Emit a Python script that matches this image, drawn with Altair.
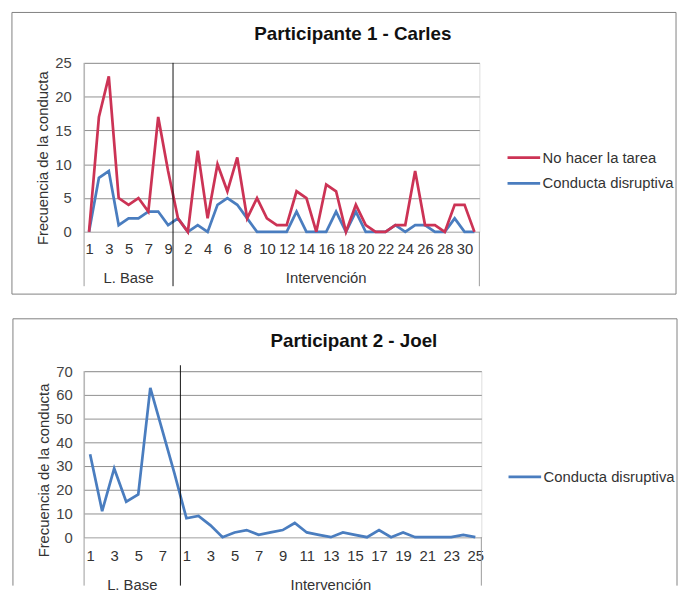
import altair as alt
import pandas as pd

FONT = "Liberation Sans"

# ---------------- data ----------------
series_names = ["No hacer la tarea", "Conducta disruptiva"]
series_colors = ["#CC3355", "#4A7DBF"]
phase_labels = ["L. Base", "Intervención"]
y_title = "Frecuencia de la conducta"

# Participant 1 - Carles
p1_title = "Participante 1 - Carles"
p1_base_sessions = list(range(1, 10))
p1_int_sessions = list(range(1, 32))
p1_tarea_base = [0, 17, 23, 5, 4, 5, 3, 17, 9]
p1_tarea_int = [2, 0, 12, 2, 10, 6, 11, 2, 5, 2, 1, 1, 6, 5, 0, 7, 6, 0, 4, 1,
                0, 0, 1, 1, 9, 1, 1, 0, 4, 4, 0]
p1_disr_base = [0, 8, 9, 1, 2, 2, 3, 3, 1]
p1_disr_int = [2, 0, 1, 0, 4, 5, 4, 2, 0, 0, 0, 0, 3, 0, 0, 0, 3, 0, 3, 0,
               0, 0, 1, 0, 1, 1, 0, 0, 2, 0, 0]
p1_y_ticks = [0, 5, 10, 15, 20, 25]

# Participant 2 - Joel
p2_title = "Participant 2 - Joel"
p2_base_sessions = list(range(1, 9))
p2_int_sessions = list(range(1, 26))
p2_disr_base = [35, 11, 29, 15, 18, 63, 45, 27]
p2_disr_int = [8, 9, 5, 0, 2, 3, 1, 2, 3, 6, 2, 1, 0, 2, 1, 0, 3, 0, 2, 0,
               0, 0, 0, 1, 0]
p2_y_ticks = [0, 10, 20, 30, 40, 50, 60, 70]


def build_df(base_sessions, int_sessions, series_values):
    rows = []
    sessions = base_sessions + int_sessions
    phases = [phase_labels[0]] * len(base_sessions) + [phase_labels[1]] * len(int_sessions)
    for name, (b, i) in series_values.items():
        vals = b + i
        for k, (s, ph, v) in enumerate(zip(sessions, phases, vals)):
            rows.append({"idx": k + 1, "session": s, "phase": ph,
                         "series": name, "value": v})
    return pd.DataFrame(rows)


def make_panel(df, n_base, n_total, names, colors, y_ticks, title, g):
    W, H = g["W"], g["H"]
    xscale = alt.Scale(domain=[0.5, n_total + 0.5], nice=False, zero=False)
    xaxis = alt.Axis(
        values=list(range(1, n_total + 1, 2)),
        labelExpr=f"datum.value <= {n_base} ? datum.value : datum.value - {n_base}",
        grid=False, ticks=False, tickSize=0, domain=True, domainColor="#c8c8c8",
        labelPadding=g["xlabpad"], labelFontSize=15, labelColor="#333333",
        labelFont=FONT, labelOverlap=False, labelFlush=False, labelBound=False,
        title=None,
    )
    X = alt.X("idx:Q", scale=xscale, axis=xaxis)
    yaxis = alt.Axis(
        values=y_ticks, grid=True, gridColor="#8f8f8f", gridWidth=1,
        domain=False, ticks=False, tickSize=0, labelPadding=g["ylabpad"],
        labelFontSize=15, labelColor="#444444", labelFont=FONT,
        title=y_title, titleFont=FONT, titleFontSize=15, titleFontWeight="normal",
        titleColor="#333333", titleAngle=270, titleX=g["titleX"], titleY=g["titleY"],
        titleAlign="center", titleBaseline="middle",
    )
    Y = alt.Y("value:Q", scale=alt.Scale(domain=[y_ticks[0], y_ticks[-1]], nice=False),
              axis=yaxis)
    C = alt.Color("series:N", scale=alt.Scale(domain=names, range=colors),
                  legend=alt.Legend(
                      title=None, orient="none", legendX=g["legX"], legendY=g["legY"],
                      symbolType="stroke", symbolSize=1089, symbolStrokeWidth=2.75,
                      labelFontSize=15, labelColor="#333333", labelFont=FONT,
                      clipHeight=16, rowPadding=10, labelOffset=1, padding=0))

    one = pd.DataFrame({"a": [0]})
    layers = []
    # panel frame
    if g["closed"]:
        layers.append(alt.Chart(one).mark_rect(fillOpacity=0, stroke="#808080", strokeWidth=1)
                      .encode(x=alt.value(g["bx1"]), x2=alt.value(g["bx2"]),
                              y=alt.value(g["by1"]), y2=alt.value(g["by2"])))
    else:
        for (xa, xb, ya, yb) in [(g["bx1"], g["bx1"], g["by1"], g["by2"]),
                                 (g["bx2"], g["bx2"], g["by1"], g["by2"]),
                                 (g["bx1"], g["bx2"], g["by1"], g["by1"])]:
            layers.append(alt.Chart(one).mark_rule(stroke="#808080", strokeWidth=1)
                          .encode(x=alt.value(xa), x2=alt.value(xb),
                                  y=alt.value(ya), y2=alt.value(yb)))
    # category-axis frame lines (left / right)
    layers.append(alt.Chart(one).mark_rule(stroke="#9a9a9a", strokeWidth=1)
                  .encode(x=alt.value(0), y=alt.value(0), y2=alt.value(g["axbot"])))
    layers.append(alt.Chart(one).mark_rule(stroke="#9a9a9a", strokeWidth=1)
                  .encode(x=alt.value(W), y=alt.value(H), y2=alt.value(g["axbot"])))

    # lines: draw in reverse order so the first series is on top
    for name in reversed(names):
        layers.append(alt.Chart(df).transform_filter(alt.datum.series == name)
                      .mark_line(strokeWidth=2.75)
                      .encode(x=X, y=Y, color=C, detail="series:N"))

    # phase separator
    sep = pd.DataFrame({"idx": [n_base + 0.5]})
    layers.append(alt.Chart(sep).mark_rule(stroke="#111111", strokeWidth=1)
                  .encode(x=X, y=alt.value(g["septop"]), y2=alt.value(g["axbot"])))

    # phase labels
    ph = pd.DataFrame({"idx": [(1 + n_base) / 2, (n_base + 1 + n_total) / 2],
                       "label": phase_labels})
    layers.append(alt.Chart(ph).mark_text(font=FONT, fontSize=15, color="#333333",
                                          baseline="middle")
                  .encode(x=X, y=alt.value(g["phy"]), text="label:N"))

    # title
    t = pd.DataFrame({"t": [title]})
    layers.append(alt.Chart(t).mark_text(font=FONT, fontSize=19, fontWeight="bold",
                                         color="#111111", baseline="middle")
                  .encode(x=alt.value(g["tx"]), y=alt.value(g["ty"]), text="t:N"))

    return alt.layer(*layers).properties(width=W, height=H)


df1 = build_df(p1_base_sessions, p1_int_sessions,
               {series_names[0]: (p1_tarea_base, p1_tarea_int),
                series_names[1]: (p1_disr_base, p1_disr_int)})
df2 = build_df(p2_base_sessions, p2_int_sessions,
               {series_names[1]: (p2_disr_base, p2_disr_int)})

g1 = dict(W=400, H=171, xlabpad=10, ylabpad=13, titleX=-42, titleY=96,
          legX=427, legY=88, closed=True, bx1=-73, bx2=599, by1=-51, by2=234,
          axbot=226, septop=0, phy=218, tx=272, ty=-29)
g2 = dict(W=402, H=168, xlabpad=12, ylabpad=12, titleX=-41, titleY=100,
          legX=428, legY=99, closed=False, bx1=-72, bx2=600, by1=-53, by2=217,
          axbot=217, septop=-6, phy=216, tx=273, ty=-30)

panel1 = make_panel(df1, len(p1_base_sessions),
                    len(p1_base_sessions) + len(p1_int_sessions),
                    series_names, series_colors, p1_y_ticks, p1_title, g1)
panel2 = make_panel(df2, len(p2_base_sessions),
                    len(p2_base_sessions) + len(p2_int_sessions),
                    [series_names[1]], [series_colors[1]], p2_y_ticks, p2_title, g2)

chart = (alt.vconcat(panel1, panel2, spacing=23)
         .resolve_scale(x="independent", y="independent", color="independent")
         .resolve_axis(x="independent", y="independent")
         .resolve_legend(color="independent")
         .properties(padding={"left": 3, "top": 0, "right": 0, "bottom": 0})
         .configure_view(stroke=None)
         .configure(background="white"))

chart.save("out.html", embed_options={"renderer": "svg", "actions": False})
